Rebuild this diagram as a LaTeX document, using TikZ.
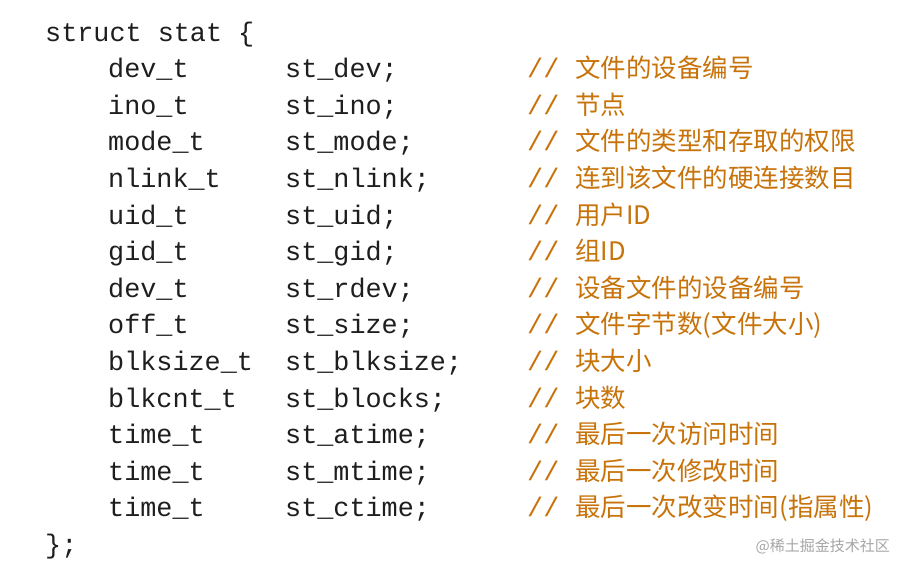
\documentclass[tikz,border=0pt]{standalone}
\usepackage{fontspec}
\setmonofont{Liberation Mono}
\newfontfamily\cjk{Noto Sans CJK SC}
\definecolor{cmt}{RGB}{200,115,10}
\definecolor{code}{RGB}{30,30,30}
\begin{document}
\begin{tikzpicture}[x=1pt,y=-1pt,
  codetext/.style={anchor=base west,inner sep=0pt,font=\fontsize{26.8}{30}\ttfamily,text=code},
  cmttext/.style={anchor=base west,inner sep=0pt,font=\fontsize{26.8}{30}\ttfamily,text=cmt},
  wmark/.style={anchor=base east,inner sep=0pt,font=\fontsize{15}{18}\cjk,text=gray!70}]
\useasboundingbox[fill=white] (0,0) rectangle (907,571);
\node[codetext] (head) at (45,41) {struct stat \{};
\foreach \t/\n/\c [count=\i] in {
 dev\_t/st\_dev;/文件的设备编号,
 ino\_t/st\_ino;/节点,
 mode\_t/st\_mode;/文件的类型和存取的权限,
 nlink\_t/st\_nlink;/连到该文件的硬连接数目,
 uid\_t/st\_uid;/用户ID,
 gid\_t/st\_gid;/组ID,
 dev\_t/st\_rdev;/设备文件的设备编号,
 off\_t/st\_size;/文件字节数(文件大小),
 blksize\_t/st\_blksize;/块大小,
 blkcnt\_t/st\_blocks;/块数,
 time\_t/st\_atime;/最后一次访问时间,
 time\_t/st\_mtime;/最后一次修改时间,
 time\_t/st\_ctime;/最后一次改变时间(指属性)}{
  \node[codetext] (t\i) at (108,{41+36.6*\i}) {\t};
  \node[codetext] (n\i) at (285,{41+36.6*\i}) {\n};
  \node[cmttext] (c\i) at (527,{41+36.6*\i}) {// {\cjk\fontsize{25.5}{30}\selectfont\c}};
}
\node[codetext] (tail) at (45,{41+36.6*14}) {\};};
\node[wmark] (wm) at (890,551) {@稀土掘金技术社区};
\end{tikzpicture}
\end{document}
